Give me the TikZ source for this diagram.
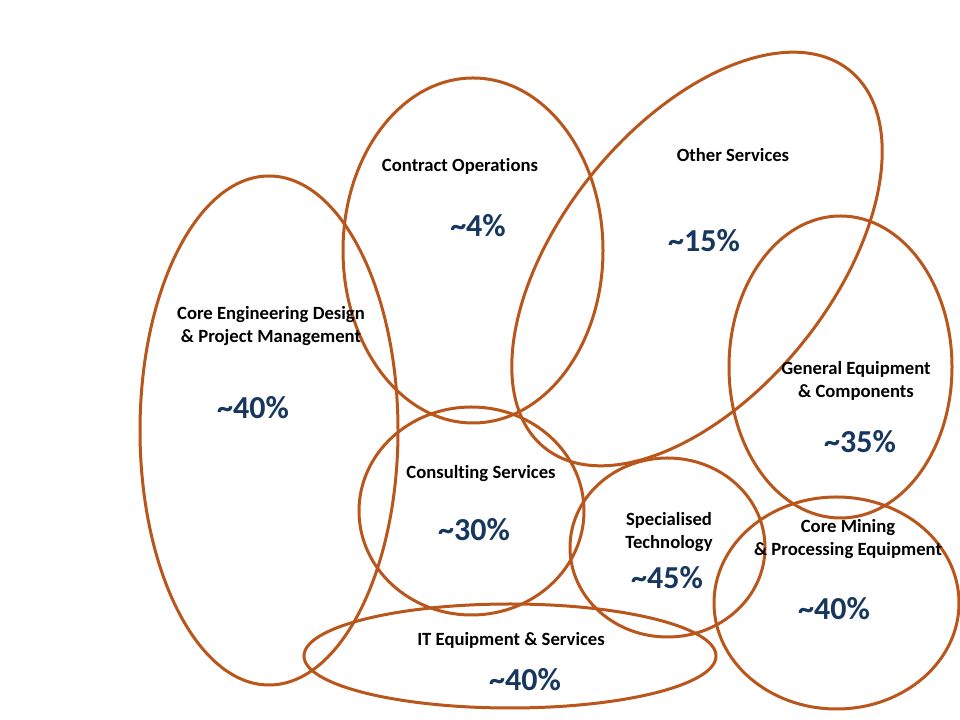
\documentclass[tikz,border=0pt]{standalone}
\usepackage{fontspec}
\setmainfont[Ligatures=NoCommon]{Carlito}
\usepackage{xcolor}
\definecolor{ringbrown}{HTML}{B9561C}
\definecolor{pctblue}{HTML}{17375E}

\begin{document}
\begin{tikzpicture}[x=0.75pt, y=0.75pt,
    ring/.style={draw=ringbrown, line width=2.25pt},
    lbl/.style={font=\fontsize{14}{17.25}\selectfont\bfseries, align=center, inner sep=0pt},
    pct/.style={font=\fontsize{24}{29}\selectfont\bfseries, text=pctblue, inner sep=0pt}]
    \useasboundingbox (0,0) rectangle (960,720);
    \fill[white] (0,0) rectangle (960,720);
    % segments
    \draw[ring] (269,289.5) ellipse [x radius=129, y radius=254.5];
    \draw[ring] (473,469.5) ellipse [x radius=130, y radius=172.5];
    \draw[ring, rotate around={51:(697,461)}] (697,461) ellipse [x radius=242.6, y radius=134.9];
    \draw[ring] (840.5,353) ellipse [x radius=111.5, y radius=151];
    \draw[ring] (471.5,209) ellipse [x radius=112.5, y radius=104];
    \draw[ring] (667.5,172.5) ellipse [x radius=97.5, y radius=89.5];
    \draw[ring] (836.5,117) ellipse [x radius=122.5, y radius=106];
    \draw[ring] (510,64) ellipse [x radius=206, y radius=52];
    % labels
    \node[lbl] (coreeng) at (271,393.5) {Core Engineering Design\\\& Project Management};
    \node[pct] (coreengpct) at (253,312) {\textasciitilde 40\%};
    \node[lbl] (contract) at (460,554) {Contract Operations};
    \node[pct] (contractpct) at (478,494) {\textasciitilde 4\%};
    \node[lbl] (other) at (733,565) {Other Services};
    \node[pct] (otherpct) at (704,479) {\textasciitilde 15\%};
    \node[lbl] (genequip) at (856,339.5) {General Equipment\\\& Components};
    \node[pct] (genequippct) at (860,278) {\textasciitilde 35\%};
    \node[lbl] (consult) at (481,246) {Consulting Services};
    \node[pct] (consultpct) at (474,190) {\textasciitilde 30\%};
    \node[lbl] (spectech) at (669,187.5) {Specialised\\Technology};
    \node[pct] (spectechpct) at (667,142) {\textasciitilde 45\%};
    \node[lbl] (coremining) at (848,180.5) {Core Mining\\\& Processing Equipment};
    \node[pct] (coreminingpct) at (834,111) {\textasciitilde 40\%};
    \node[lbl] (itequip) at (511,80) {IT Equipment \& Services};
    \node[pct] (itequippct) at (525,40) {\textasciitilde 40\%};
\end{tikzpicture}
\end{document}
